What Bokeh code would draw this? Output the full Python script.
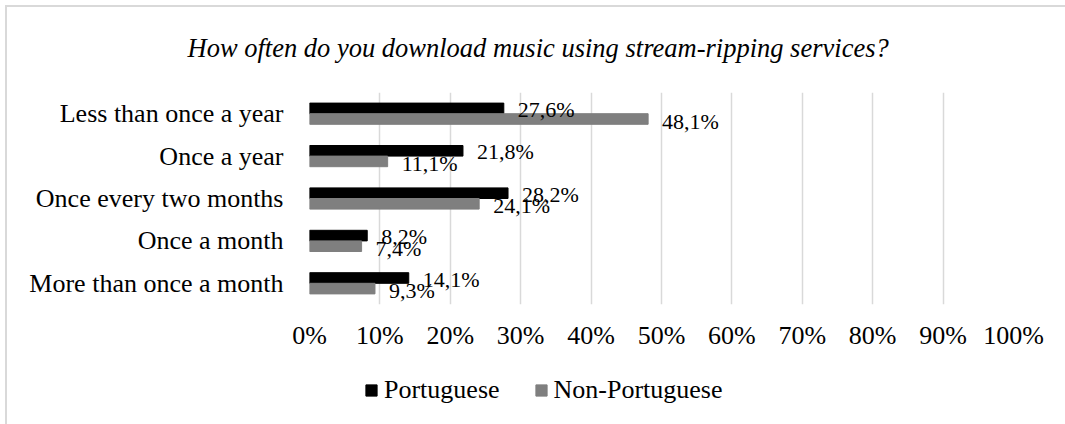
from bokeh.plotting import figure
from bokeh.layouts import column
from bokeh.models import (ColumnDataSource, FactorRange, Range1d, Legend, LegendItem,
                          NumeralTickFormatter, FixedTicker, InlineStyleSheet)
from bokeh.transform import dodge
from bokeh.embed import file_html
from bokeh.resources import INLINE
from bokeh.core.properties import value

# Survey answers, top row first
categories = [
    "Less than once a year",
    "Once a year",
    "Once every two months",
    "Once a month",
    "More than once a month",
]
portuguese = [27.6, 21.8, 28.2, 8.2, 14.1]
non_portuguese = [48.1, 11.1, 24.1, 7.4, 9.3]
series_names = ["Portuguese", "Non-Portuguese"]
x_ticks = [0, 0.1, 0.2, 0.3, 0.4, 0.5, 0.6, 0.7, 0.8, 0.9, 1.0]

FONT = "Liberation Serif"
BLACK = "#000000"
GREY = "#7f7f7f"

def pct_label(v):
    return f"{v:.1f}".replace(".", ",") + "%"

src = ColumnDataSource(dict(
    cat=categories,
    por=[v / 100 for v in portuguese],
    non=[v / 100 for v in non_portuguese],
    por_lbl=[pct_label(v) for v in portuguese],
    non_lbl=[pct_label(v) for v in non_portuguese],
))

# ---- main chart -------------------------------------------------------------
p = figure(
    width=1065, height=360,
    y_range=FactorRange(*reversed(categories), range_padding=0),
    x_range=Range1d(0, 1),
    output_backend="svg", toolbar_location=None,
    min_border_left=309, min_border_right=52,
    min_border_top=91, min_border_bottom=56,
    background_fill_color="white", border_fill_color="white",
    outline_line_color=None,
)

p.title.text = "How often do you download music using stream-ripping services?"
p.title.text_font = FONT
p.title.text_font_style = "italic"
p.title.text_font_size = "26.5px"
p.title.text_color = "#000000"
p.title.align = "left"
p.title.offset = -122
p.title.standoff = 60

bh = 0.25
r_por = p.hbar(y=dodge("cat", 0.125, range=p.y_range), right="por", left=0,
               height=bh, source=src, color=BLACK)
r_non = p.hbar(y=dodge("cat", -0.125, range=p.y_range), right="non", left=0,
               height=bh, source=src, color=GREY)

# value labels just past each bar end
p.text(x="por", y=dodge("cat", 0.125, range=p.y_range), text="por_lbl", source=src,
       x_offset=14, y_offset=1, text_align="left", text_baseline="middle",
       text_font=value(FONT), text_font_size="22px", text_color="#000000")
p.text(x="non", y=dodge("cat", -0.125, range=p.y_range), text="non_lbl", source=src,
       x_offset=14, y_offset=2, text_align="left", text_baseline="middle",
       text_font=value(FONT), text_font_size="22px", text_color="#000000")

xa = p.xaxis[0]
xa.ticker = FixedTicker(ticks=x_ticks)
xa.formatter = NumeralTickFormatter(format="0%")
xa.axis_line_color = None
xa.major_tick_line_color = None
xa.minor_tick_line_color = None
xa.major_label_text_font = FONT
xa.major_label_text_font_size = "26px"
xa.major_label_text_color = "#000000"
xa.major_label_standoff = 10

ya = p.yaxis[0]
ya.axis_line_color = None
ya.major_tick_line_color = None
ya.minor_tick_line_color = None
ya.major_label_text_font = FONT
ya.major_label_text_font_size = "26px"
ya.major_label_text_color = "#000000"
ya.major_label_standoff = 20

p.xgrid.grid_line_color = "#d9d9d9"
p.xgrid.grid_line_width = 1.5
p.ygrid.grid_line_color = None

# ---- legend strip (its frame lines up with the chart frame above) -----------
leg = figure(
    width=1065, height=64,
    x_range=Range1d(0, 1), y_range=Range1d(0, 1),
    output_backend="svg", toolbar_location=None,
    x_axis_location=None, y_axis_location=None,
    min_border=0, outline_line_color=None,
    background_fill_color="white", border_fill_color="white",
)
leg.grid.visible = False
# key swatches: one bar each, parked below the visible range
k_por = leg.hbar(y=[-5], right=[0.1], left=0, height=0.5, color=BLACK)
k_non = leg.hbar(y=[-5], right=[0.1], left=0, height=0.5, color=GREY)

legend = Legend(items=[
    LegendItem(label=series_names[0], renderers=[k_por]),
    LegendItem(label=series_names[1], renderers=[k_non]),
], orientation="horizontal", location=(55, 19))
legend.label_text_font = FONT
legend.label_text_font_size = "26px"
legend.label_text_color = "#000000"
legend.glyph_width = 14
legend.glyph_height = 14
legend.label_standoff = 6
legend.spacing = 34
legend.padding = 0
legend.margin = 0
legend.border_line_color = None
legend.background_fill_alpha = 0
leg.add_layout(legend, "center")

# light frame around the whole chart (left and top edges sit inside the canvas)
frame_css = InlineStyleSheet(css="""
:host::after {
  content: ""; position: absolute; left: 5px; top: 5px; right: 0; bottom: 0;
  border-left: 2px solid #d9d9d9; border-top: 2px solid #d9d9d9;
  pointer-events: none;
}
""")
page = column(p, leg, spacing=0, stylesheets=[frame_css])

open("out.html", "w").write(file_html(page, INLINE))
